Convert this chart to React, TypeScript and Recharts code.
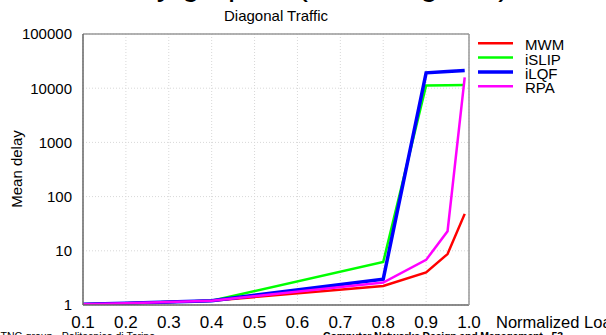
import React from "react";
import { LineChart, Line, XAxis, YAxis, CartesianGrid } from "recharts";

const loads = [0.1, 0.2, 0.3, 0.4, 0.8, 0.9, 0.95, 0.99];
const mwm = [1.03, 1.08, 1.13, 1.2, 2.25, 4.0, 8.7, 48];
const islip = [1.03, 1.08, 1.13, 1.2, 6.2, 11200, 11300, 11400];
const ilqf = [1.03, 1.08, 1.13, 1.2, 3.0, 19200, 20300, 21300];
const rpa = [1.03, 1.08, 1.13, 1.2, 2.6, 6.8, 23, 15800];

const xTicks = [0.1, 0.2, 0.3, 0.4, 0.5, 0.6, 0.7, 0.8, 0.9, 1.0];
const yTicks = [1, 10, 100, 1000, 10000, 100000];
const yMinorTicks = [1, 2, 5, 10, 20, 50, 100, 200, 500, 1000, 2000, 5000, 10000, 20000, 50000, 100000];

const seriesInfo = [
  { key: "MWM", color: "#ff0000", width: 2.5 },
  { key: "iSLIP", color: "#00ff00", width: 2.5 },
  { key: "iLQF", color: "#0000ff", width: 3.5 },
  { key: "RPA", color: "#ff00ff", width: 2.5 },
];

const data = loads.map((x, i) => ({
  x,
  MWM: mwm[i],
  iSLIP: islip[i],
  iLQF: ilqf[i],
  RPA: rpa[i],
}));

const FONT = "'Liberation Sans', Arial, sans-serif";

export default function App() {
  return (
    <div style={{ position: "absolute", left: 0, top: 0, width: 606, height: 335, background: "#fff", overflow: "hidden" }}>
      <LineChart
        width={606}
        height={335}
        data={data}
        margin={{ top: 34, right: 137, bottom: 0, left: 0 }}
      >
        <CartesianGrid stroke="#d8d8d8" strokeDasharray="1 2" />
        <XAxis
          dataKey="x"
          type="number"
          domain={[0.1, 1.0]}
          ticks={xTicks}
          tickFormatter={(v: number) => v.toFixed(1)}
          height={30}
          tickLine={false}
          tickSize={0}
          tickMargin={11}
          interval={0}
          axisLine={{ stroke: "#666", strokeWidth: 1.5 }}
          tick={{ fill: "#000", fontSize: 17, fontFamily: FONT }}
          allowDataOverflow
        />
        <XAxis
          xAxisId="bottomTicks"
          dataKey="x"
          type="number"
          domain={[0.1, 1.0]}
          ticks={xTicks}
          orientation="bottom"
          mirror
          tick={false}
          tickSize={4}
          axisLine={false}
          tickLine={{ stroke: "#666" }}
          interval={0}
        />
        <XAxis
          xAxisId="top"
          dataKey="x"
          type="number"
          domain={[0.1, 1.0]}
          ticks={xTicks}
          orientation="top"
          mirror
          tick={false}
          tickSize={4}
          axisLine={{ stroke: "#999", strokeWidth: 1.5 }}
          tickLine={{ stroke: "#999" }}
          interval={0}
        />
        <YAxis
          scale="log"
          type="number"
          domain={[1, 100000]}
          ticks={yTicks}
          width={83}
          tickLine={false}
          tickSize={0}
          tickMargin={11}
          interval={0}
          axisLine={{ stroke: "#666", strokeWidth: 1.5 }}
          tick={{ fill: "#000", fontSize: 15, fontFamily: FONT }}
          allowDataOverflow
        />
        <YAxis
          yAxisId="leftTicks"
          scale="log"
          type="number"
          domain={[1, 100000]}
          ticks={yMinorTicks}
          orientation="left"
          mirror
          tick={false}
          tickSize={4}
          axisLine={false}
          tickLine={{ stroke: "#666" }}
          interval={0}
          allowDataOverflow
        />
        <YAxis
          yAxisId="right"
          scale="log"
          type="number"
          domain={[1, 100000]}
          ticks={yMinorTicks}
          orientation="right"
          mirror
          tick={false}
          tickSize={4}
          axisLine={{ stroke: "#999", strokeWidth: 1.5 }}
          tickLine={{ stroke: "#999" }}
          interval={0}
          allowDataOverflow
        />
        {seriesInfo.map((s) => (
          <Line
            key={s.key}
            dataKey={s.key}
            stroke={s.color}
            strokeWidth={s.width}
            dot={false}
            isAnimationActive={false}
            strokeLinejoin="miter"
          />
        ))}
      </LineChart>
      <svg
        width={606}
        height={335}
        style={{ position: "absolute", left: 0, top: 0, pointerEvents: "none" }}
      >
        {seriesInfo.map((s, i) => (
          <g key={s.key}>
            <line x1={478} x2={513} y1={43.3 + i * 14.3} y2={43.3 + i * 14.3} stroke={s.color} strokeWidth={s.width} />
            <text x={525} y={43.3 + i * 14.3 + 7} fontFamily={FONT} fontSize={15} fill="#000">
              {s.key}
            </text>
          </g>
        ))}
        <text x={300} y={-5.5} textAnchor="middle" fontFamily={FONT} fontSize={32} fill="#000">
          Delay graphs, (4x4, diagonal)
        </text>
        <text x={276} y={21} textAnchor="middle" fontFamily={FONT} fontSize={15} fill="#000">
          Diagonal Traffic
        </text>
        <text
          x={0}
          y={0}
          transform="translate(22,169) rotate(-90)"
          textAnchor="middle"
          fontFamily={FONT}
          fontSize={15}
          fill="#000"
        >
          Mean delay
        </text>
        <text x={496} y={328} fontFamily={FONT} fontSize={16.5} fill="#000">
          Normalized Load
        </text>
        <text x={155} y={340} textAnchor="end" fontFamily={FONT} fontSize={10.5} fill="#000">
          Andrea Bianco – TNG group - Politecnico di Torino
        </text>
        <text x={323} y={340} fontFamily={FONT} fontSize={10.5} fontWeight="bold" fill="#000" textLength={240}>
          Computer Networks Design and Management - 53
        </text>
      </svg>
    </div>
  );
}
